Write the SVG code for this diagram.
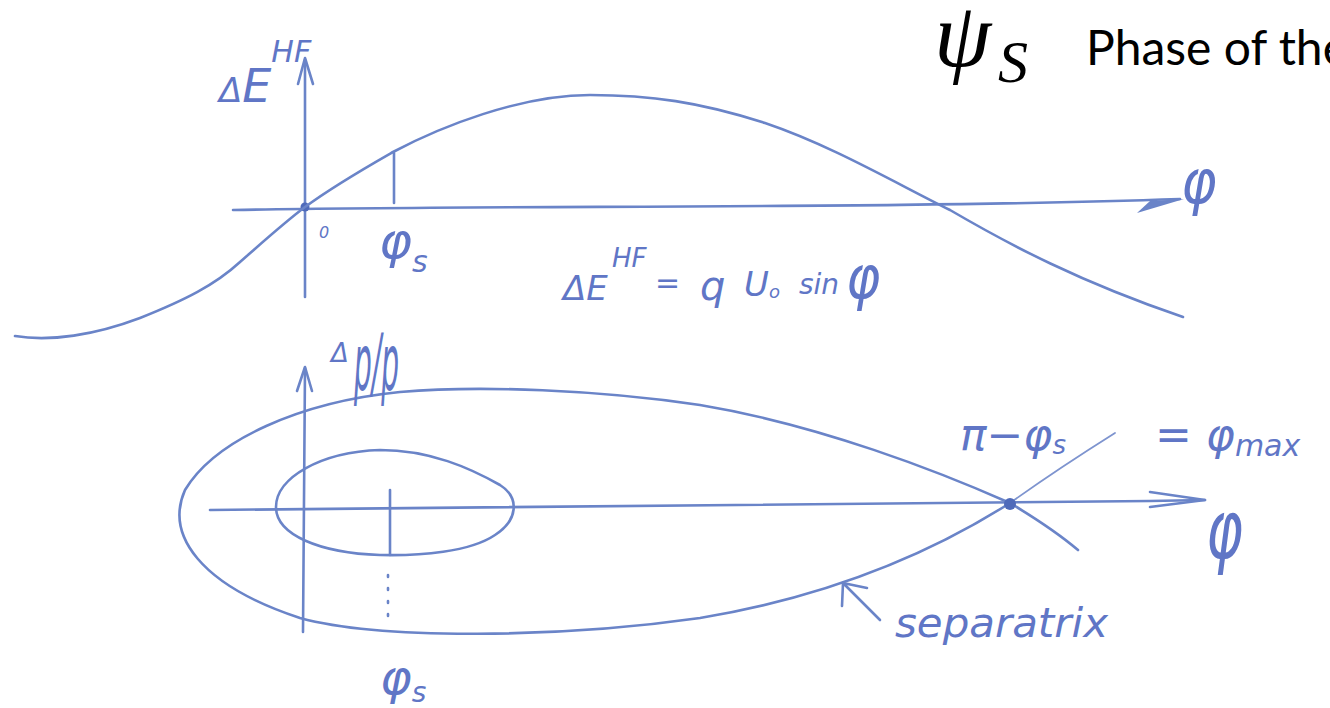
<svg xmlns="http://www.w3.org/2000/svg" width="1330" height="708" viewBox="0 0 1330 708">
<style>
.pen{fill:none;stroke:#6a84c8;stroke-width:2.6;stroke-linecap:round;stroke-linejoin:round}
.thin{fill:none;stroke:#7e94cf;stroke-width:1.8;stroke-linecap:round}
.hand{font-family:"DejaVu Sans","Liberation Sans",sans-serif;font-style:italic;fill:#6076c6}
.math{font-family:"Liberation Serif","DejaVu Serif",serif;font-style:italic;fill:#000}
.title{font-family:Lato,"Open Sans",sans-serif;fill:#000}
</style>
<rect width="1330" height="708" fill="#fff"/>

<g id="header">
  <text class="math" x="934" y="66" font-size="92">ψ</text>
  <text class="math" x="998" y="82" font-size="60">S</text>
  <text class="title" x="1086" y="65" font-size="48">Phase of the</text>
</g>

<g id="top-plot">
  <path class="pen" d="M233,210 C500,205 900,209 1180,199"/>
  <path d="M1184,199 L1137,213 L1150,201 Z" fill="#6a84c8"/>
  <path class="pen" d="M305,297 L305,60"/>
  <path class="pen" d="M298,84 L305,58 L313,84"/>
  <circle cx="305" cy="207" r="4.5" fill="#4f6aba"/>
  <path class="pen" d="M15,336 C50,342 95,335 140,318 C185,300 215,285 240,262 C265,240 285,222 305,207 C335,185 365,168 393,152 C440,127 520,95 590,95 C650,95 700,102 765,123 C830,145 890,180 950,210 C1010,245 1080,282 1183,317"/>
  <path class="pen" d="M394,153 L394,203"/>
  <text class="hand" x="319" y="238" font-size="16">0</text>
  <text class="hand" x="379" y="258" font-size="50">φ<tspan font-size="30" dy="14">s</tspan></text>
  <text class="hand" x="219" y="102" font-size="34">Δ<tspan font-size="46">E</tspan><tspan font-size="30" dy="-40">HF</tspan></text>
  <text class="hand" transform="translate(1181,203) scale(1,1.15)" font-size="54">φ</text>
  <text class="hand" x="563" y="300" font-size="34">ΔE</text>
  <text class="hand" x="612" y="267" font-size="26">HF</text>
  <text class="hand" x="655" y="293" font-size="30">=</text>
  <text class="hand" x="700" y="300" font-size="40">q</text>
  <text class="hand" x="744" y="296" font-size="34">U<tspan font-size="18" dy="2">o</tspan></text>
  <text class="hand" x="799" y="294" font-size="28">sin</text>
  <text class="hand" transform="translate(846,298) scale(1,1.15)" font-size="52">φ</text>
</g>

<g id="bottom-plot">
  <path class="pen" d="M210,510 L1150,501 L1205,500"/>
  <path class="pen" d="M1150,492 L1205,500 L1150,507"/>
  <path class="pen" d="M303,632 L305,368"/>
  <path class="pen" d="M297,391 L305,367 L312,391"/>
  <path class="pen" d="M1010,503 C940,472 820,425 700,405 C600,390 480,385 400,392 C300,402 215,440 185,490 C165,535 200,585 300,618 C380,640 560,638 700,618 C820,598 920,560 1010,503"/>
  <path class="thin" d="M1010,503 C1045,478 1080,455 1115,433"/>
  <path class="pen" d="M1010,503 C1035,518 1058,533 1078,550"/>
  <circle cx="1010" cy="504" r="6" fill="#4f6aba"/>
  <path class="pen" d="M276,507 C276,478 320,452 380,450 C430,450 470,468 500,485 C520,498 518,520 495,535 C470,552 420,556 380,555 C320,553 276,535 276,507 Z"/>
  <path class="pen" d="M390,490 L390,555"/>
  <path class="pen" d="M388,575 L388,623" stroke-dasharray="2,11"/>
  <text class="hand" x="380" y="694" font-size="48">φ<tspan font-size="28" dy="8">s</tspan></text>
  <text class="hand" x="331" y="362" font-size="26" font-style="normal">Δ</text>
  <text class="hand" transform="translate(354,390) scale(1,2.8)" font-size="28" font-style="normal">p/p</text>
  <text class="hand" x="960" y="450" font-size="44">π−φ<tspan font-size="26" dy="4">s</tspan></text>
  <text class="hand" x="1155" y="450" font-size="44">= φ<tspan font-size="30" dy="6">max</tspan></text>
  <text class="hand" transform="translate(1206,558) scale(1,1.45)" font-size="56">φ</text>
  <path class="pen" d="M880,620 L843,583 M842,606 L843,583 L867,588"/>
  <text class="hand" x="895" y="637" font-size="40" textLength="213" lengthAdjust="spacingAndGlyphs">separatrix</text>
</g>
</svg>
